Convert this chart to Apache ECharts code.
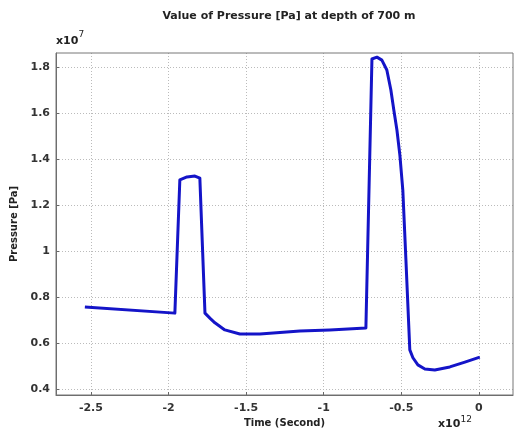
<!DOCTYPE html>
<html>
<head>
<meta charset="utf-8">
<script src="https://cdn.jsdelivr.net/npm/echarts@6/dist/echarts.min.js"></script>
<style>html,body{margin:0;padding:0;background:#fff}#c{width:517px;height:437px}</style>
</head>
<body>
<div id="c"></div>
<script>
// Time in units of 1e12 s, pressure in units of 1e7 Pa
var timeValues = [-2.539, -1.959, -1.927, -1.881, -1.830, -1.798, -1.765, -1.730, -1.701, -1.637, -1.540, -1.411, -1.153, -0.960, -0.728, -0.722, -0.689, -0.657, -0.625, -0.593, -0.567, -0.548, -0.528, -0.509, -0.490, -0.470, -0.445, -0.425, -0.393, -0.348, -0.284, -0.187, -0.090, 0.006];
var pressureValues = [0.757, 0.730, 1.309, 1.322, 1.326, 1.317, 0.730, 0.706, 0.688, 0.657, 0.639, 0.639, 0.652, 0.657, 0.665, 0.670, 1.835, 1.843, 1.830, 1.787, 1.700, 1.613, 1.526, 1.417, 1.265, 0.961, 0.570, 0.536, 0.505, 0.487, 0.483, 0.496, 0.517, 0.539];
var xTicks = [-2.5, -2, -1.5, -1, -0.5, 0];
var yTicks = [0.4, 0.6, 0.8, 1, 1.2, 1.4, 1.6, 1.8];

var data = timeValues.map(function (t, i) { return [t, pressureValues[i]]; });
var font = 'DejaVu Sans';
var chart = echarts.init(document.getElementById('c'));
chart.setOption({
  animation: false,
  backgroundColor: '#fff',
  title: {
    text: 'Value of Pressure [Pa] at depth of 700 m',
    left: 284, top: 6, textAlign: 'center',
    textStyle: { fontFamily: font, fontSize: 11, fontWeight: 'bold', color: '#222' }
  },
  grid: { left: 56, top: 53, right: 4, bottom: 42 },
  xAxis: {
    type: 'value', min: -2.725, max: 0.22,
    name: 'Time (Second)', nameLocation: 'middle', nameGap: 22,
    nameTextStyle: { fontFamily: font, fontSize: 10, fontWeight: 'bold', color: '#222' },
    axisLine: { show: true, onZero: false, lineStyle: { color: '#666', width: 1 } },
    axisTick: { show: true, inside: true, length: 3, customValues: xTicks, lineStyle: { color: '#666' } },
    axisLabel: { customValues: xTicks, fontFamily: font, fontSize: 11, fontWeight: 'bold', color: '#333', margin: 8,
      formatter: function (v) { return String(v); } },
    splitLine: { show: true, lineStyle: { color: '#bbb', type: [1, 2], width: 1 } }
  },
  yAxis: {
    type: 'value', min: 0.374, max: 1.861,
    name: 'Pressure [Pa]', nameLocation: 'middle', nameGap: 36,
    nameTextStyle: { fontFamily: font, fontSize: 10, fontWeight: 'bold', color: '#222' },
    axisLine: { show: true, onZero: false, lineStyle: { color: '#666', width: 1 } },
    axisTick: { show: true, inside: true, length: 3, customValues: yTicks, lineStyle: { color: '#666' } },
    axisLabel: { customValues: yTicks, fontFamily: font, fontSize: 11, fontWeight: 'bold', color: '#333', margin: 6,
      formatter: function (v) { return String(Math.round(v * 10) / 10); } },
    splitLine: { show: true, lineStyle: { color: '#bbb', type: [1, 2], width: 1 } }
  },
  graphic: [
    { type: 'rect', shape: { x: 56, y: 53, width: 457, height: 342 }, style: { fill: 'none', stroke: '#777', lineWidth: 1 }, z: 10, silent: true },
    { type: 'text', left: 56, top: 30, style: { text: '{b|x10}{s|7}', rich: {
      b: { fontFamily: font, fontSize: 11, fontWeight: 'bold', fill: '#222', verticalAlign: 'bottom' },
      s: { fontFamily: font, fontSize: 9, fill: '#222', verticalAlign: 'top', padding: [0, 0, 8, 0] } } } },
    { type: 'text', left: 438, top: 415, style: { text: '{b|x10}{s|12}', rich: {
      b: { fontFamily: font, fontSize: 11, fontWeight: 'bold', fill: '#222' },
      s: { fontFamily: font, fontSize: 9, fill: '#222', padding: [0, 0, 10, 0] } } } }
  ],
  series: [{
    type: 'line', data: data, showSymbol: false, smooth: false,
    lineStyle: { color: '#1414c8', width: 3, join: 'round' }, z: 5
  }]
});
</script>
</body>
</html>
